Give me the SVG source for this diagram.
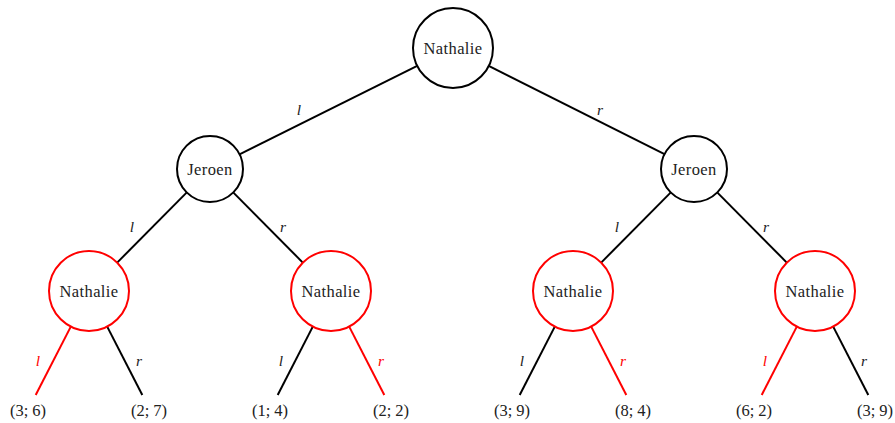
<svg xmlns="http://www.w3.org/2000/svg" width="895" height="423" viewBox="0 0 895 423">
<style>
.n{fill:#fff;stroke:#000;stroke-width:2}
.red{stroke:#f00}
.t{font-family:"Liberation Serif","DejaVu Serif",serif;font-size:16.5px;fill:#222;text-anchor:middle;letter-spacing:0.4px}
.lf{letter-spacing:0}
.e{stroke:#000;stroke-width:2;fill:none}
.er{stroke:#f00;stroke-width:2;fill:none}
.lb{font-family:"Liberation Serif","DejaVu Serif",serif;font-size:15.5px;font-style:italic;fill:#222;text-anchor:middle}
.lr{fill:#f00}
</style>
<rect width="895" height="423" fill="#fff"/>
<g id="connectors">
<line class="e" x1="417.2" y1="65.8" x2="239.5" y2="154.3"/>
<line class="e" x1="488.7" y1="65.9" x2="664.5" y2="154.2"/>
<line class="e" x1="186.8" y1="192.4" x2="117.2" y2="262.6"/>
<line class="e" x1="233.2" y1="192.4" x2="302.8" y2="262.6"/>
<line class="e" x1="670.8" y1="192.4" x2="601.2" y2="262.6"/>
<line class="e" x1="717.2" y1="192.4" x2="786.8" y2="262.6"/>
<line class="er" x1="70.8" y1="326.6" x2="35.7" y2="395"/>
<line class="e" x1="107.2" y1="326.6" x2="142.3" y2="395"/>
<line class="e" x1="312.8" y1="326.6" x2="277.7" y2="395"/>
<line class="er" x1="349.2" y1="326.6" x2="384.3" y2="395"/>
<line class="e" x1="554.8" y1="326.6" x2="519.7" y2="395"/>
<line class="er" x1="591.2" y1="326.6" x2="626.3" y2="395"/>
<line class="er" x1="796.8" y1="326.6" x2="761.7" y2="395"/>
<line class="e" x1="833.2" y1="326.6" x2="868.3" y2="395"/>
<text class="lb" x="299" y="115">l</text>
<text class="lb" x="600" y="115">r</text>
<text class="lb" x="132" y="232">l</text>
<text class="lb" x="283" y="232">r</text>
<text class="lb" x="617" y="232">l</text>
<text class="lb" x="766" y="232">r</text>
<text class="lb lr" x="38" y="366">l</text>
<text class="lb" x="139" y="366">r</text>
<text class="lb" x="281" y="366">l</text>
<text class="lb lr" x="381" y="366">r</text>
<text class="lb" x="522" y="366">l</text>
<text class="lb lr" x="623" y="366">r</text>
<text class="lb lr" x="765" y="366">l</text>
<text class="lb" x="864" y="366">r</text>
</g>
<g id="root"><circle class="n" cx="453" cy="48" r="40"/><text class="t" x="453" y="54">Nathalie</text></g>
<g id="jeroen-l"><circle class="n" cx="210" cy="169" r="33"/><text class="t" x="210" y="175">Jeroen</text></g>
<g id="jeroen-r"><circle class="n" cx="694" cy="169" r="33"/><text class="t" x="694" y="175">Jeroen</text></g>
<g id="nat-1"><circle class="n red" cx="89" cy="291" r="40"/><text class="t" x="89" y="297">Nathalie</text></g>
<g id="nat-2"><circle class="n red" cx="331" cy="291" r="40"/><text class="t" x="331" y="297">Nathalie</text></g>
<g id="nat-3"><circle class="n red" cx="573" cy="291" r="40"/><text class="t" x="573" y="297">Nathalie</text></g>
<g id="nat-4"><circle class="n red" cx="815" cy="291" r="40"/><text class="t" x="815" y="297">Nathalie</text></g>
<g id="leaf-1"><text class="t lf" x="28" y="416">(3; 6)</text></g>
<g id="leaf-2"><text class="t lf" x="149" y="416">(2; 7)</text></g>
<g id="leaf-3"><text class="t lf" x="270" y="416">(1; 4)</text></g>
<g id="leaf-4"><text class="t lf" x="391" y="416">(2; 2)</text></g>
<g id="leaf-5"><text class="t lf" x="512" y="416">(3; 9)</text></g>
<g id="leaf-6"><text class="t lf" x="633" y="416">(8; 4)</text></g>
<g id="leaf-7"><text class="t lf" x="754" y="416">(6; 2)</text></g>
<g id="leaf-8"><text class="t lf" x="875" y="416">(3; 9)</text></g>
</svg>
